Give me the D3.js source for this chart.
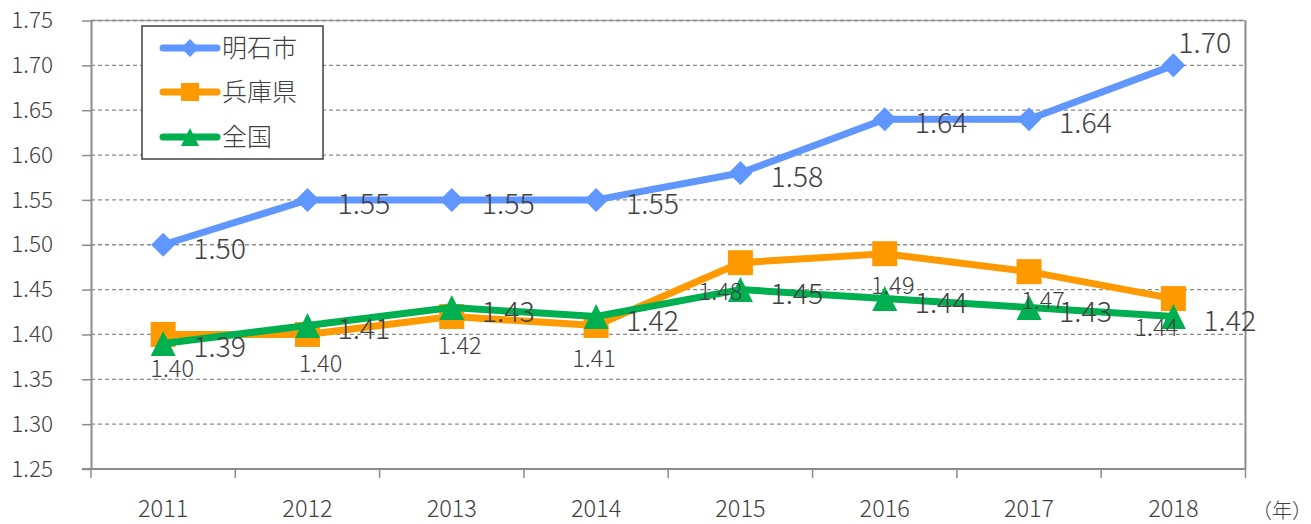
<!DOCTYPE html>
<html><head><meta charset="utf-8">
<script src="https://cdn.jsdelivr.net/npm/d3@7"></script>
<style>
html,body{margin:0;padding:0;background:#fff;}
svg{display:block;font-family:"Noto Sans CJK JP","Noto Sans",sans-serif;font-weight:300;}
</style></head>
<body><svg id="c" width="1311" height="524"></svg>
<script>
const years = ["2011","2012","2013","2014","2015","2016","2017","2018"];
const akashi = [1.50,1.55,1.55,1.55,1.58,1.64,1.64,1.70];
const hyogo = [1.40,1.40,1.42,1.41,1.48,1.49,1.47,1.44];
const zenkoku = [1.39,1.41,1.43,1.42,1.45,1.44,1.43,1.42];
const yTicks = [1.25,1.30,1.35,1.40,1.45,1.50,1.55,1.60,1.65,1.70,1.75];
const seriesNames = ["明石市","兵庫県","全国"];
const unitLabel = "（年）";

// layout (label nudges for 兵庫県, measured from reference)
const hyogoLabelNudge = [[9,43],[13,38],[8,37],[-2,42],[-20,37],[8,40],[14,37],[-17,37]];

const colors = ["#5F96FF","#FF9900","#00B050"];
const textColor = "#404040";
const svg = d3.select("#c");
const L = 91, R = 1245.5, T = 20.5, B = 469;
const x = d3.scaleBand().domain(years).range([L,R]);
const cx = d => x(d) + x.bandwidth()/2;
const y = d3.scaleLinear().domain([1.25,1.75]).range([B,T]);

// gridlines
svg.append("g").selectAll("line").data(yTicks.filter(v=>v>1.25 && v<1.75)).join("line")
  .attr("x1",L).attr("x2",R).attr("y1",d=>y(d)).attr("y2",d=>y(d))
  .attr("stroke","#8c8c8c").attr("stroke-width",1.3).attr("stroke-dasharray","4,3");
// top border
svg.append("line").attr("x1",L).attr("x2",R).attr("y1",y(1.75)).attr("y2",y(1.75))
  .attr("stroke","#a6a6a6").attr("stroke-width",1.3);
svg.append("line").attr("x1",L).attr("x2",R).attr("y1",y(1.75)).attr("y2",y(1.75))
  .attr("stroke","#8c8c8c").attr("stroke-width",1.3).attr("stroke-dasharray","4,3");
// right border
svg.append("line").attr("x1",R).attr("x2",R).attr("y1",T).attr("y2",B)
  .attr("stroke","#8c8c8c").attr("stroke-width",2);

// y axis
const yAxis = d3.axisLeft(y).tickValues(yTicks).tickFormat(d3.format(".2f")).tickSize(9).tickSizeOuter(0).tickPadding(29);
const gy = svg.append("g").attr("transform",`translate(${L},0)`).call(yAxis);
gy.select(".domain").attr("stroke","#8c8c8c").attr("stroke-width",2);
gy.selectAll(".tick line").attr("stroke","#8c8c8c").attr("stroke-width",1.5);
gy.selectAll(".tick text").attr("fill",textColor).style("font-size","22.5px")
  .style("font-family",'"Noto Sans CJK JP",sans-serif').style("font-weight",300);

// x axis
svg.append("line").attr("x1",L-9).attr("x2",R).attr("y1",B).attr("y2",B)
  .attr("stroke","#8c8c8c").attr("stroke-width",2);
const bounds = d3.range(years.length+1).map(i => L + i*x.step());
svg.append("g").selectAll("line").data(bounds).join("line")
  .attr("x1",d=>d).attr("x2",d=>d).attr("y1",B).attr("y2",B+9)
  .attr("stroke","#8c8c8c").attr("stroke-width",1.5);
svg.append("g").selectAll("text").data(years).join("text")
  .attr("x",d=>cx(d)).attr("y",517).attr("text-anchor","middle")
  .attr("fill",textColor).style("font-size","23.5px").text(d=>d);
svg.append("text").attr("x",1252).attr("y",518).attr("fill",textColor)
  .style("font-size","20px").text(unitLabel);

// markers
function marker(g, type, px, py, s, color){
  if(type===0){ // diamond
    const h = s/2;
    g.append("path").attr("d",`M${px},${py-h}L${px+h},${py}L${px},${py+h}L${px-h},${py}Z`).attr("fill",color);
  } else if(type===1){
    g.append("rect").attr("x",px-s/2).attr("y",py-s/2).attr("width",s).attr("height",s).attr("fill",color);
  } else {
    const h = s/2;
    g.append("path").attr("d",`M${px},${py-h}L${px+h},${py+h}L${px-h},${py+h}Z`).attr("fill",color);
  }
}

const allSeries = [akashi,hyogo,zenkoku];
const markerSize = [24,25,25];
const line = d3.line().x((d,i)=>cx(years[i])).y(d=>y(d));
allSeries.forEach((vals,si)=>{
  const g = svg.append("g");
  g.append("path").datum(vals).attr("d",line).attr("fill","none")
    .attr("stroke",colors[si]).attr("stroke-width",7).attr("stroke-linejoin","round").attr("stroke-linecap","round");
  vals.forEach((v,i)=>marker(g, si, cx(years[i]), y(v), markerSize[si], colors[si]));
});

// data labels
const fmt = d3.format(".2f");
const lg = svg.append("g").attr("fill",textColor);
akashi.forEach((v,i)=>{
  const last = i===akashi.length-1;
  lg.append("text").attr("x",cx(years[i])+(last?5:30)).attr("y",y(v)+(last?-12:14))
    .style("font-size","28.5px").text(fmt(v));
});
zenkoku.forEach((v,i)=>{
  lg.append("text").attr("x",cx(years[i])+30).attr("y",y(v)+14)
    .style("font-size","28.5px").text(fmt(v));
});
hyogo.forEach((v,i)=>{
  const n = hyogoLabelNudge[i];
  lg.append("text").attr("x",cx(years[i])+n[0]).attr("y",y(v)+n[1]).attr("text-anchor","middle")
    .style("font-size","23.5px").text(fmt(v));
});

// legend
const leg = svg.append("g");
leg.append("rect").attr("x",142).attr("y",26).attr("width",181).attr("height",133)
  .attr("fill","#fff").attr("stroke","#404040").attr("stroke-width",1.5);
const legY = [48,92,137];
seriesNames.forEach((n,i)=>{
  leg.append("line").attr("x1",163).attr("x2",217).attr("y1",legY[i]).attr("y2",legY[i])
    .attr("stroke",colors[i]).attr("stroke-width",7).attr("stroke-linecap","round");
  marker(leg, i, 190, legY[i], [18,18,18][i], colors[i]);
  leg.append("text").attr("x",222).attr("y",legY[i]+9).attr("fill",textColor)
    .style("font-size","25px").text(n);
});
</script></body></html>
